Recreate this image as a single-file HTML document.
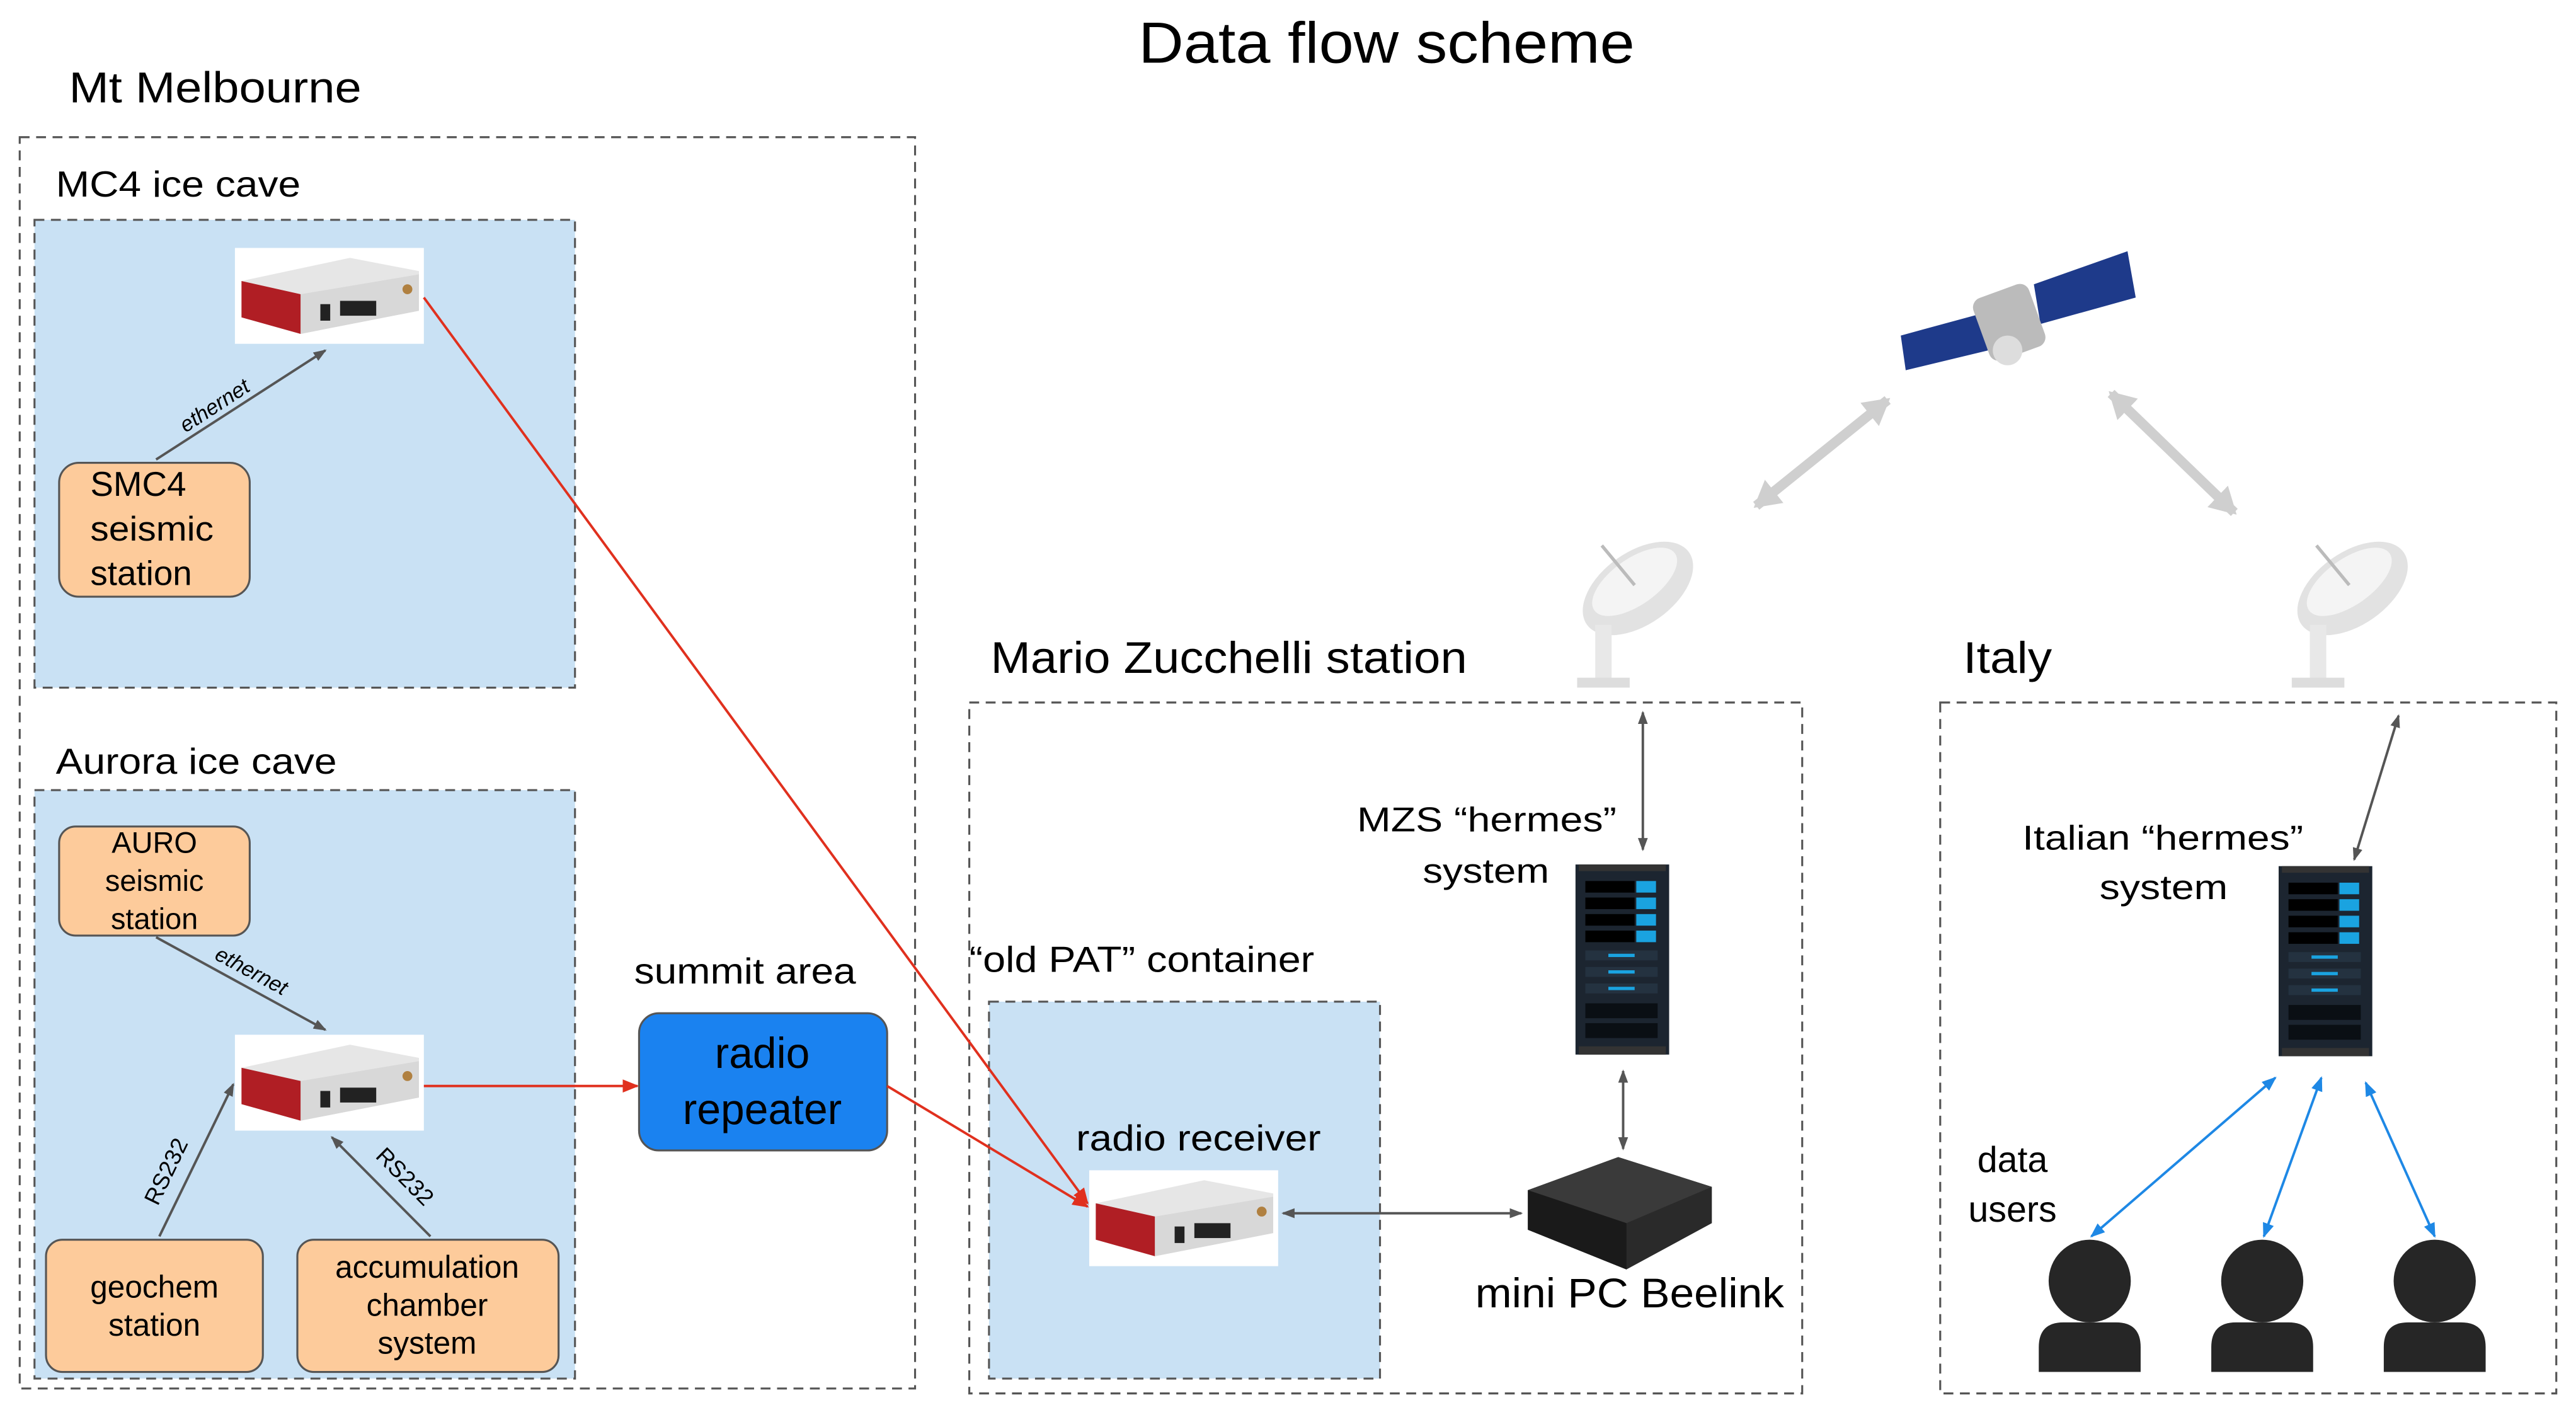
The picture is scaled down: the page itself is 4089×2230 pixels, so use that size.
<!DOCTYPE html>
<html><head><meta charset="utf-8"><style>html,body{margin:0;padding:0;background:#fff}svg{display:block}</style></head>
<body>
<svg width="4089" height="2230" viewBox="0 0 1568 850" preserveAspectRatio="none" xmlns="http://www.w3.org/2000/svg" font-family="Liberation Sans, sans-serif">
<defs>
<marker id="ag" markerWidth="8" markerHeight="8" refX="7" refY="4" orient="auto-start-reverse" markerUnits="userSpaceOnUse"><path d="M0,1 L8,4 L0,7 z" fill="#555"/></marker>
<marker id="ar" markerWidth="10" markerHeight="10" refX="9" refY="5" orient="auto-start-reverse" markerUnits="userSpaceOnUse"><path d="M0,1 L10,5 L0,9 z" fill="#e0301e"/></marker>
<marker id="ab" markerWidth="9" markerHeight="9" refX="8" refY="4.5" orient="auto-start-reverse" markerUnits="userSpaceOnUse"><path d="M0,1 L9,4.5 L0,8 z" fill="#1e88e5"/></marker>
<marker id="aw" markerWidth="22" markerHeight="22" refX="14" refY="11" orient="auto-start-reverse" markerUnits="userSpaceOnUse"><path d="M0,2 L16,11 L0,20 z" fill="#cfcfcf"/></marker>
<g id="dev">
<rect x="0" y="0" width="115" height="58" fill="#fff"/>
<path d="M4,20 L70,6 L112,14 L112,38 L40,52 L4,42 z" fill="#e6e6e6"/>
<path d="M4,20 L40,28 L40,52 L4,42 z" fill="#b01e24"/>
<path d="M40,28 L112,16 L112,38 L40,52 z" fill="#d8d8d8"/>
<rect x="52" y="34" width="6" height="10" fill="#222"/>
<rect x="64" y="32" width="22" height="9" fill="#222"/>
<circle cx="105" cy="25" r="3" fill="#b08040"/>
</g>
<g id="rack">
<rect x="0" y="0" width="57" height="115" fill="#1c2530"/>
<rect x="2" y="0" width="53" height="4" fill="#333"/>
<rect x="6" y="10" width="30" height="7" fill="#000"/><rect x="37" y="10" width="12" height="7" fill="#1aa3e0"/>
<rect x="6" y="20" width="30" height="7" fill="#000"/><rect x="37" y="20" width="12" height="7" fill="#1aa3e0"/>
<rect x="6" y="30" width="30" height="7" fill="#000"/><rect x="37" y="30" width="12" height="7" fill="#1aa3e0"/>
<rect x="6" y="40" width="30" height="7" fill="#000"/><rect x="37" y="40" width="12" height="7" fill="#1aa3e0"/>
<rect x="6" y="52" width="44" height="6" fill="#243240"/><rect x="20" y="54" width="16" height="2" fill="#1aa3e0"/>
<rect x="6" y="62" width="44" height="6" fill="#243240"/><rect x="20" y="64" width="16" height="2" fill="#1aa3e0"/>
<rect x="6" y="72" width="44" height="6" fill="#243240"/><rect x="20" y="74" width="16" height="2" fill="#1aa3e0"/>
<rect x="6" y="84" width="44" height="9" fill="#0a0f14"/>
<rect x="6" y="96" width="44" height="9" fill="#0a0f14"/>
<rect x="2" y="110" width="53" height="5" fill="#333"/>
</g>
<g id="dish">
<ellipse cx="42" cy="38" rx="38" ry="22" transform="rotate(-35 42 38)" fill="#e2e2e2"/>
<ellipse cx="40" cy="34" rx="30" ry="14" transform="rotate(-35 40 34)" fill="#f4f4f4"/>
<line x1="40" y1="36" x2="20" y2="12" stroke="#bbb" stroke-width="2"/>
<rect x="16" y="60" width="10" height="35" fill="#e8e8e8"/>
<rect x="5" y="92" width="32" height="6" fill="#ddd"/>
</g>
<g id="user">
<circle cx="0" cy="0" r="25" fill="#262626"/>
<path d="M-31,55 L-31,40 Q-31,25 -16,25 L16,25 Q31,25 31,40 L31,55 z" fill="#262626"/>
</g>
</defs>

<text x="693" y="38" font-size="35" textLength="302" lengthAdjust="spacingAndGlyphs">Data flow scheme</text>

<!-- Mt Melbourne -->
<text x="42" y="62" font-size="26" textLength="178" lengthAdjust="spacingAndGlyphs">Mt Melbourne</text>
<rect x="12" y="83" width="545" height="757" fill="none" stroke="#555" stroke-dasharray="6,4" stroke-width="1.2"/>
<text x="34" y="119" font-size="22" textLength="149" lengthAdjust="spacingAndGlyphs">MC4 ice cave</text>
<rect x="21" y="133" width="329" height="283" fill="#c9e1f4" stroke="#555" stroke-dasharray="6,4" stroke-width="1.2"/>
<use href="#dev" x="143" y="150"/>
<rect x="36" y="280" width="116" height="81" rx="12" fill="#fdcb9b" stroke="#555" stroke-width="1.2"/>
<text x="55" y="300" font-size="21">SMC4</text>
<text x="55" y="327" font-size="21" textLength="75" lengthAdjust="spacingAndGlyphs">seismic</text>
<text x="55" y="354" font-size="21">station</text>
<line x1="95" y1="278" x2="198" y2="212" stroke="#555" stroke-width="1.5" marker-end="url(#ag)"/>
<text x="0" y="0" font-size="13" font-style="italic" transform="translate(113,262) rotate(-33)">ethernet</text>

<text x="34" y="468" font-size="22" textLength="171" lengthAdjust="spacingAndGlyphs">Aurora ice cave</text>
<rect x="21" y="478" width="329" height="356" fill="#c9e1f4" stroke="#555" stroke-dasharray="6,4" stroke-width="1.2"/>
<rect x="36" y="500" width="116" height="66" rx="10" fill="#fdcb9b" stroke="#555" stroke-width="1.2"/>
<text x="94" y="516" font-size="18" text-anchor="middle">AURO</text>
<text x="94" y="539" font-size="18" text-anchor="middle">seismic</text>
<text x="94" y="562" font-size="18" text-anchor="middle">station</text>
<line x1="95" y1="567" x2="198" y2="623" stroke="#555" stroke-width="1.5" marker-end="url(#ag)"/>
<text x="0" y="0" font-size="13" font-style="italic" transform="translate(130,580) rotate(28)">ethernet</text>
<use href="#dev" x="143" y="626"/>
<rect x="28" y="750" width="132" height="80" rx="10" fill="#fdcb9b" stroke="#555" stroke-width="1.2"/>
<text x="94" y="785" font-size="19" text-anchor="middle">geochem</text>
<text x="94" y="808" font-size="19" text-anchor="middle">station</text>
<rect x="181" y="750" width="159" height="80" rx="10" fill="#fdcb9b" stroke="#555" stroke-width="1.2"/>
<text x="260" y="773" font-size="19" text-anchor="middle">accumulation</text>
<text x="260" y="796" font-size="19" text-anchor="middle">chamber</text>
<text x="260" y="819" font-size="19" text-anchor="middle">system</text>
<line x1="97" y1="748" x2="142" y2="656" stroke="#555" stroke-width="1.5" marker-end="url(#ag)"/>
<text x="0" y="0" font-size="14" transform="translate(96,730) rotate(-64)">RS232</text>
<line x1="262" y1="748" x2="202" y2="688" stroke="#555" stroke-width="1.5" marker-end="url(#ag)"/>
<text x="0" y="0" font-size="14" transform="translate(228,700) rotate(45)">RS232</text>

<!-- summit -->
<line x1="258" y1="657" x2="388" y2="657" stroke="#e0301e" stroke-width="1.5" marker-end="url(#ar)"/>
<text x="386" y="595" font-size="22" textLength="135" lengthAdjust="spacingAndGlyphs">summit area</text>
<rect x="389" y="613" width="151" height="83" rx="12" fill="#1a82f0" stroke="#555" stroke-width="1.2"/>
<text x="464" y="646" font-size="26" text-anchor="middle">radio</text>
<text x="464" y="680" font-size="26" text-anchor="middle">repeater</text>

<!-- MZS -->
<text x="603" y="407" font-size="27" textLength="290" lengthAdjust="spacingAndGlyphs">Mario Zucchelli station</text>
<rect x="590" y="425" width="507" height="418" fill="none" stroke="#555" stroke-dasharray="6,4" stroke-width="1.2"/>
<text x="590" y="588" font-size="22" textLength="210" lengthAdjust="spacingAndGlyphs">“old PAT” container</text>
<rect x="602" y="606" width="238" height="228" fill="#c9e1f4" stroke="#555" stroke-dasharray="6,4" stroke-width="1.2"/>
<text x="655" y="696" font-size="22" textLength="149" lengthAdjust="spacingAndGlyphs">radio receiver</text>
<use href="#dev" x="663" y="708"/>
<line x1="258" y1="180" x2="662" y2="728" stroke="#e0301e" stroke-width="1.5" marker-end="url(#ar)"/>
<line x1="540" y1="657" x2="662" y2="730" stroke="#e0301e" stroke-width="1.5" marker-end="url(#ar)"/>
<line x1="781" y1="734" x2="926" y2="734" stroke="#555" stroke-width="1.5" marker-start="url(#ag)" marker-end="url(#ag)"/>
<g>
<path d="M930,720 L985,700 L1042,718 L1042,740 L990,768 L930,744 z" fill="#2a2a2a"/>
<path d="M930,720 L985,700 L1042,718 L990,740 z" fill="#3a3a3a"/>
<path d="M930,720 L990,740 L990,768 L930,744 z" fill="#1a1a1a"/>
</g>
<text x="898" y="791" font-size="25" textLength="188" lengthAdjust="spacingAndGlyphs">mini PC Beelink</text>
<use href="#rack" x="959" y="523"/>
<text x="826" y="503" font-size="21" textLength="158" lengthAdjust="spacingAndGlyphs">MZS “hermes”</text>
<text x="866" y="534" font-size="21" textLength="77" lengthAdjust="spacingAndGlyphs">system</text>
<line x1="1000" y1="431" x2="1000" y2="514" stroke="#555" stroke-width="1.5" marker-start="url(#ag)" marker-end="url(#ag)"/>
<line x1="988" y1="648" x2="988" y2="695" stroke="#555" stroke-width="1.5" marker-start="url(#ag)" marker-end="url(#ag)"/>
<use href="#dish" x="955" y="318"/>

<!-- satellite -->
<g>
<path d="M1157,203 L1205,190 L1210,212 L1160,224 z" fill="#1e3a8a"/>
<path d="M1238,172 L1295,152 L1300,180 L1242,196 z" fill="#1e3a8a"/>
<rect x="1205" y="175" width="36" height="40" rx="6" fill="#bbb" transform="rotate(-20 1223 195)"/>
<circle cx="1222" cy="212" r="9" fill="#ddd"/>
</g>
<line x1="1069" y1="306" x2="1149" y2="242" stroke="#cfcfcf" stroke-width="6" marker-start="url(#aw)" marker-end="url(#aw)"/>
<line x1="1285" y1="238" x2="1360" y2="310" stroke="#cfcfcf" stroke-width="6" marker-start="url(#aw)" marker-end="url(#aw)"/>

<!-- Italy -->
<text x="1195" y="407" font-size="27" textLength="54" lengthAdjust="spacingAndGlyphs">Italy</text>
<rect x="1181" y="425" width="375" height="418" fill="none" stroke="#555" stroke-dasharray="6,4" stroke-width="1.2"/>
<use href="#dish" x="1390" y="318"/>
<text x="1231" y="514" font-size="21" textLength="171" lengthAdjust="spacingAndGlyphs">Italian “hermes”</text>
<text x="1278" y="544" font-size="21" textLength="78" lengthAdjust="spacingAndGlyphs">system</text>
<use href="#rack" x="1387" y="524"/>
<line x1="1460" y1="433" x2="1433" y2="520" stroke="#555" stroke-width="1.5" marker-start="url(#ag)" marker-end="url(#ag)"/>
<text x="1225" y="709" font-size="22" text-anchor="middle">data</text>
<text x="1225" y="739" font-size="22" text-anchor="middle">users</text>
<use href="#user" x="1272" y="775"/>
<use href="#user" x="1377" y="775"/>
<use href="#user" x="1482" y="775"/>
<line x1="1385" y1="652" x2="1273" y2="748" stroke="#1e88e5" stroke-width="1.5" marker-start="url(#ab)" marker-end="url(#ab)"/>
<line x1="1413" y1="652" x2="1378" y2="748" stroke="#1e88e5" stroke-width="1.5" marker-start="url(#ab)" marker-end="url(#ab)"/>
<line x1="1440" y1="655" x2="1482" y2="748" stroke="#1e88e5" stroke-width="1.5" marker-start="url(#ab)" marker-end="url(#ab)"/>
</svg>
</body></html>
